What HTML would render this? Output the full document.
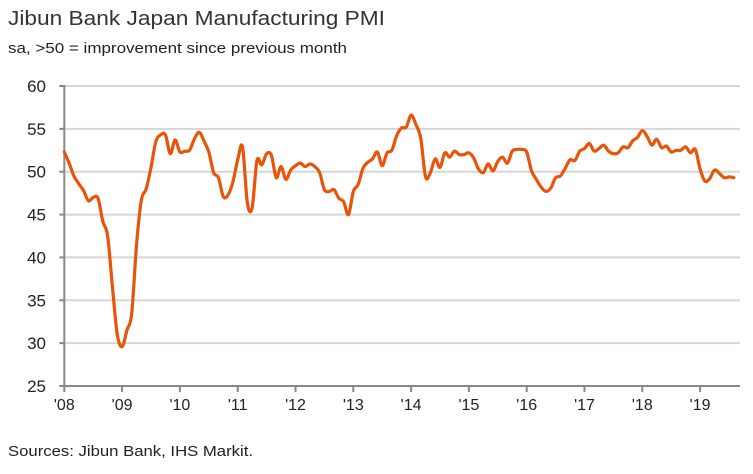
<!DOCTYPE html>
<html><head><meta charset="utf-8"><style>
body{margin:0;background:#fff;width:753px;height:469px;overflow:hidden;font-family:"Liberation Sans",sans-serif}
</style></head><body>
<svg width="753" height="469" id="chart">
<text x="8" y="25" font-size="20" fill="#333" textLength="377" lengthAdjust="spacingAndGlyphs">Jibun Bank Japan Manufacturing PMI</text>
<text x="8" y="53" font-size="15" fill="#222" textLength="339" lengthAdjust="spacingAndGlyphs">sa, &gt;50 = improvement since previous month</text>
<text x="8" y="456" font-size="15" fill="#222" textLength="245" lengthAdjust="spacingAndGlyphs">Sources: Jibun Bank, IHS Markit.</text>
<g id="grid"></g><g id="axes"></g><g id="series"></g>
</svg>
<script>
const yTicks=[25,30,35,40,45,50,55,60];
const xTickLabels=["'08","'09","'10","'11","'12","'13","'14","'15","'16","'17","'18","'19"];
const startYear=2008;
const pmi2008=[52.3,51,49.5,48.6,47.8,46.6,47.0,46.9,44.2,42.5,36.5,31.0];
const pmi2009=[29.6,31.5,33.5,41.5,46.7,48.0,50.5,53.5,54.3,54.3,52.1,53.7];
const pmi2010=[52.3,52.4,52.5,53.8,54.6,53.6,52.3,49.9,49.3,47.1,47.3,48.8];
const pmi2011=[51.4,52.9,46.4,45.8,51.3,50.8,52.1,51.9,49.3,50.6,49.1,50.2];
const pmi2012=[50.7,51.0,50.6,50.9,50.6,49.9,47.9,47.7,47.9,46.9,46.5,45.0];
const pmi2013=[47.7,48.5,50.4,51.1,51.5,52.3,50.7,52.2,52.5,54.2,55.1,55.2];
const pmi2014=[56.6,55.5,53.9,49.4,49.9,51.5,50.5,52.2,51.7,52.4,52.0,52.0];
const pmi2015=[52.2,51.6,50.3,49.9,50.9,50.1,51.2,51.7,51.0,52.4,52.6,52.6];
const pmi2016=[52.3,50.1,49.1,48.2,47.7,48.1,49.3,49.5,50.4,51.4,51.3,52.4];
const pmi2017=[52.7,53.3,52.4,52.7,53.1,52.4,52.1,52.2,52.9,52.8,53.6,54.0];
const pmi2018=[54.8,54.1,53.1,53.8,52.8,53.0,52.3,52.5,52.5,52.9,52.2,52.6];
const pmi2019=[50.3,48.9,49.2,50.2,49.8,49.3,49.4,49.3];
const values=[].concat(pmi2008,pmi2009,pmi2010,pmi2011,pmi2012,pmi2013,pmi2014,pmi2015,pmi2016,pmi2017,pmi2018,pmi2019);
const X0=64.3,X1=740,YB=386,YT=86,yMin=25,yMax=60,monthW=57.8/12;
const xs=m=>X0+m*monthW;
const ys=v=>YB-(v-yMin)/(yMax-yMin)*(YB-YT);
const NS="http://www.w3.org/2000/svg";
function mk(t,a,p){const e=document.createElementNS(NS,t);for(const k in a)e.setAttribute(k,a[k]);p.appendChild(e);return e;}
const grid=document.getElementById('grid'),axes=document.getElementById('axes'),ser=document.getElementById('series');
yTicks.forEach(v=>{
 if(v>yMin){const g=mk('line',{x1:X0,x2:X1,y1:ys(v),y2:ys(v),stroke:'#d6d6d6','stroke-width':2},grid);
 
 }
 const tk=mk('line',{x1:X0-5,x2:X0,y1:ys(v),y2:ys(v),stroke:'#888','stroke-width':2},axes);
 
 
 const t=mk('text',{x:46,y:ys(v)+6,'text-anchor':'end','font-size':17,fill:'#222'},axes);t.textContent=v;
 
 
});
const ya=mk('line',{x1:X0,x2:X0,y1:YT-1,y2:YB,stroke:'#888','stroke-width':2},axes);


const xa=mk('line',{x1:X0-5,x2:X1,y1:YB,y2:YB,stroke:'#888','stroke-width':2},axes);


xTickLabels.forEach((l,i)=>{const x=xs(i*12);
 const tk=mk('line',{x1:x,x2:x,y1:YB,y2:YB+6,stroke:'#888','stroke-width':2},axes);
 
 
 const t=mk('text',{x:x,y:YB+24,'text-anchor':'middle','font-size':16,fill:'#222'},axes);t.textContent=l;
 
 
});
const P=values.map((v,i)=>[xs(i),ys(v)]);
let d='M'+P[0][0]+','+P[0][1];
for(let i=0;i<P.length-1;i++){const p0=P[Math.max(0,i-1)],p1=P[i],p2=P[i+1],p3=P[Math.min(P.length-1,i+2)];
 const c1=[p1[0]+(p2[0]-p0[0])/6,p1[1]+(p2[1]-p0[1])/6],c2=[p2[0]-(p3[0]-p1[0])/6,p2[1]-(p3[1]-p1[1])/6];
 d+=`C${c1[0]},${c1[1]} ${c2[0]},${c2[1]} ${p2[0]},${p2[1]}`;}
const line=mk('path',{d:d,fill:'none',stroke:'#E8540A','stroke-width':3.2,'stroke-linejoin':'round','stroke-linecap':'round'},ser);


</script>
</body></html>
